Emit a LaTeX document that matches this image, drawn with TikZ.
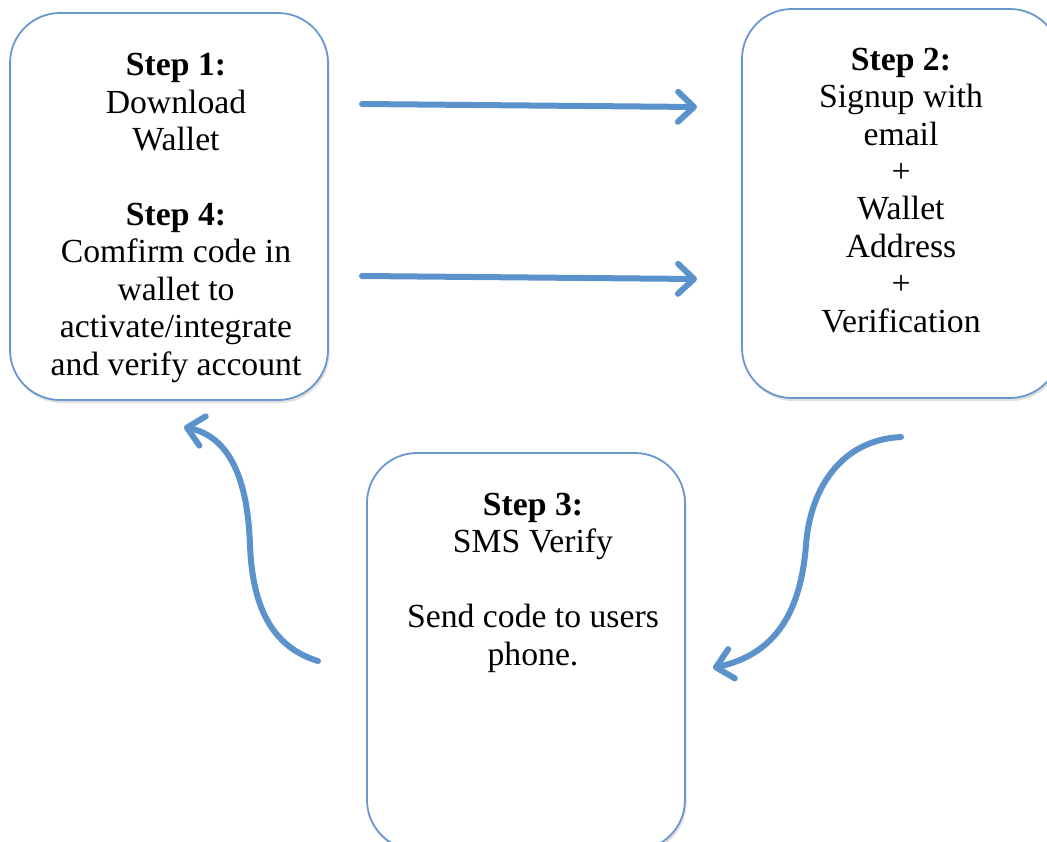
\documentclass[tikz,border=0pt]{standalone}
\usepackage{fontspec}
\setmainfont{Liberation Serif}
\usetikzlibrary{arrows.meta,shadows}
\definecolor{flowblue}{RGB}{91,146,203}
\definecolor{edgeblue}{RGB}{104,152,207}
\begin{document}
\begin{tikzpicture}[x=1pt,y=-1pt,
  stepbox/.style={draw=edgeblue, line width=1.8pt, fill=white, rounded corners=50pt,
    minimum width=318pt, inner sep=0pt,
    drop shadow={shadow xshift=1.5pt, shadow yshift=-3pt, opacity=0.12, fill=black}},
  steptext/.style={anchor=base, align=center, inner sep=0pt,
    font=\fontsize{33.7pt}{37.4pt}\selectfont},
  flow/.style={draw=flowblue, line width=6pt, line cap=round,
    -{Straight Barb[length=16pt,width=30pt,round]}}]
\useasboundingbox (0,0) rectangle (1047,841);
\clip (0,0) rectangle (1047,841);

% boxes
\node[stepbox, minimum height=387pt] (s1) at (169,206.5) {};
\node[stepbox, minimum height=389pt] (s2) at (901,203.5) {};
\node[stepbox, minimum height=397pt] (s3) at (526,651.5) {};

% box texts (placed by the baseline of their last line)
\node[steptext] (t1) at (176,375) {\textbf{Step 1:}\\Download\\Wallet\\[37.4pt]\textbf{Step 4:}\\Comfirm code in\\wallet to\\activate/integrate\\and verify account};
\node[steptext] (t2) at (901,332) {\textbf{Step 2:}\\Signup with\\email\\+\\Wallet\\Address\\+\\Verification};
\node[steptext] (t3) at (533,665) {\textbf{Step 3:}\\SMS Verify\\[37.4pt]Send code to users\\phone.};

% straight arrows
\coordinate (a1s) at (362,104);
\coordinate (a1e) at (697,107);
\coordinate (a2s) at (362,276);
\coordinate (a2e) at (697,279);
\draw[flow] (a1s) -- (a1e);
\draw[flow] (a2s) -- (a2e);

% curved arrows
\coordinate (c1s) at (318,661);
\coordinate (c1m) at (250,545);
\coordinate (c1e) at (184,427);
\draw[flow] (c1s) .. controls (265,645) and (252,595) .. (c1m)
                  .. controls (248,490) and (235,438) .. (c1e);
\coordinate (c2s) at (901,437);
\coordinate (c2m) at (806,545);
\coordinate (c2e) at (713,668);
\draw[flow] (c2s) .. controls (840,440) and (810,490) .. (c2m)
                  .. controls (800,620) and (770,655) .. (c2e);
\end{tikzpicture}
\end{document}
